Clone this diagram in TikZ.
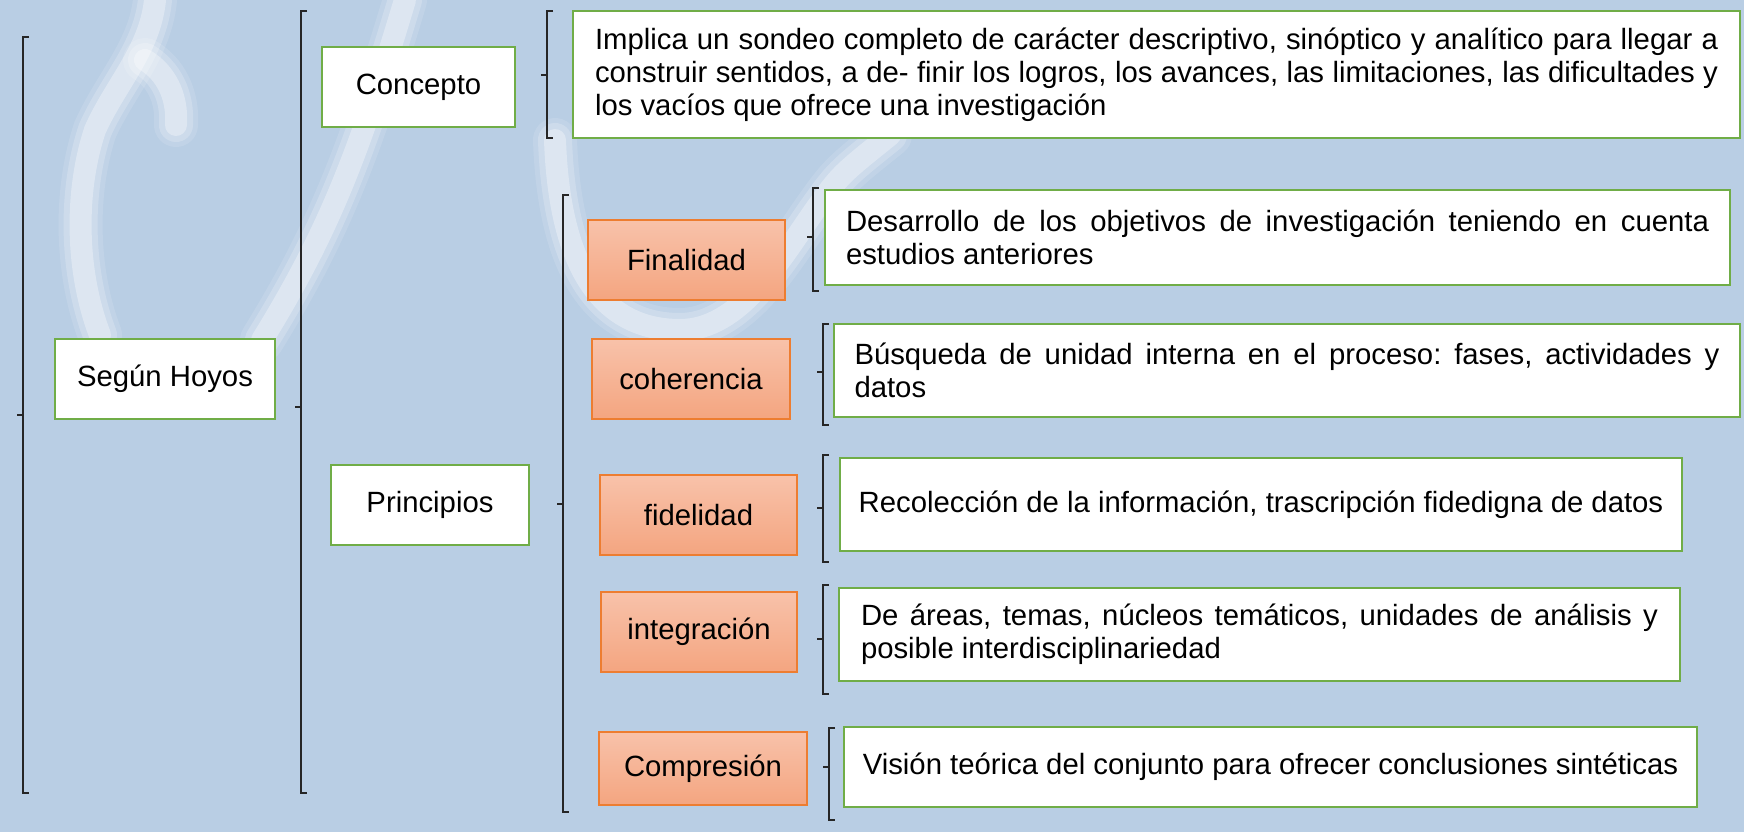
\documentclass[tikz,border=0pt]{standalone}
\usepackage{fontspec}
\setmainfont{Liberation Sans}
\frenchspacing
\definecolor{bgc}{RGB}{185,206,228}
\definecolor{grn}{RGB}{112,173,71}
\definecolor{orTop}{RGB}{248,194,170}
\definecolor{orBot}{RGB}{244,165,128}
\definecolor{orBrd}{RGB}{237,125,49}
\newcommand{\mybracket}[4]{%
  \draw[brk] (#1+6,#2) -- (#1,#2) -- (#1,#3) -- (#1+6,#3);
  \draw[brk] (#1,#4) -- (#1-6,#4);}
\newcommand{\swirlpath}[1]{%
  \draw[white, line cap=round, line width=44pt, opacity=0.12] #1;
  \draw[white, line cap=round, line width=34pt, opacity=0.2] #1;
  \draw[white, line cap=round, line width=22pt, opacity=0.32] #1;}
\tikzset{
  txt/.style={font=\fontsize{29.3}{32.8}\selectfont},
  gbox/.style={txt, draw=grn, line width=2.6pt, fill=white, inner sep=0pt, align=center},
  tbox/.style={gbox, align=justify},
  obox/.style={txt, draw=orBrd, line width=1.5pt, top color=orTop, bottom color=orBot, inner sep=0pt, align=center},
  brk/.style={line width=1.1pt, black!85}
}
\begin{document}
\begin{tikzpicture}[x=1pt, y=-1pt]
\useasboundingbox (0,0) rectangle (1744,832);
\fill[bgc] (0,0) rectangle (1744,832);
% faint watermark swirl
\swirlpath{(155,0) .. controls (150,50) and (115,85) .. (95,130) .. controls (75,190) and (75,270) .. (100,335)}
\swirlpath{(145,60) .. controls (165,72) and (178,95) .. (176,125)}
\swirlpath{(405,0) .. controls (360,150) and (330,230) .. (262,340)}
\swirlpath{(555,140) .. controls (560,280) and (610,330) .. (680,330) .. controls (740,330) and (780,260) .. (815,210) .. controls (840,175) .. (890,135)}
% brackets
\mybracket{23}{37}{793}{415}
\mybracket{301}{11}{793}{407}
\mybracket{547}{11}{138}{75}
\mybracket{563}{195}{812}{504}
\mybracket{813}{188}{291}{237}
\mybracket{823}{324}{425}{372}
\mybracket{823}{455}{562}{508}
\mybracket{823}{585}{694}{639}
\mybracket{829}{728}{820}{767}
% level 1 and 2
\node[gbox, minimum width=220pt, minimum height=80pt] (hoyos) at (165,379) {Según Hoyos};
\node[gbox, minimum width=193pt, minimum height=80pt] (concepto) at (418.5,87) {Concepto};
\node[gbox, minimum width=198pt, minimum height=80pt] (principios) at (430,505) {Principios};
\node[tbox, minimum width=1167pt, minimum height=127pt, text width=1123pt] (def) at (1156.5,74.5)
  {Implica un sondeo completo de carácter descriptivo, sinóptico y analítico para llegar a\linebreak
   construir sentidos, a de- finir los logros, los avances, las limitaciones, las dificultades y\linebreak
   los vacíos que ofrece una investigación};
% principles
\node[obox, minimum width=197pt, minimum height=80pt] (fin) at (686.5,260) {Finalidad};
\node[obox, minimum width=198pt, minimum height=80pt] (coh) at (691,379) {coherencia};
\node[obox, minimum width=197pt, minimum height=80pt] (fid) at (698.5,515) {fidelidad};
\node[obox, minimum width=196pt, minimum height=80pt] (integ) at (699,632) {integración};
\node[obox, minimum width=208pt, minimum height=73pt] (comp) at (703,768.5) {Compresión};
% descriptions
\node[tbox, minimum width=905pt, minimum height=95pt, text width=863pt] (tfin) at (1277.5,237.5)
  {Desarrollo de los objetivos de investigación teniendo en cuenta\linebreak estudios anteriores};
\node[tbox, minimum width=906pt, minimum height=93pt, text width=865pt] (tcoh) at (1287,370.5)
  {Búsqueda de unidad interna en el proceso: fases, actividades y\linebreak datos};
\node[gbox, minimum width=842pt, minimum height=93pt] (tfid) at (1261,504.5)
  {Recolección de la información, trascripción fidedigna de datos};
\node[tbox, minimum width=841pt, minimum height=93pt, text width=797pt] (tint) at (1259.5,634.5)
  {De áreas, temas, núcleos temáticos, unidades de análisis y\linebreak posible interdisciplinariedad};
\node[gbox, minimum width=853pt, minimum height=80pt] (tcomp) at (1270.5,767)
  {Visión teórica del conjunto para ofrecer conclusiones sintéticas};
\end{tikzpicture}
\end{document}
